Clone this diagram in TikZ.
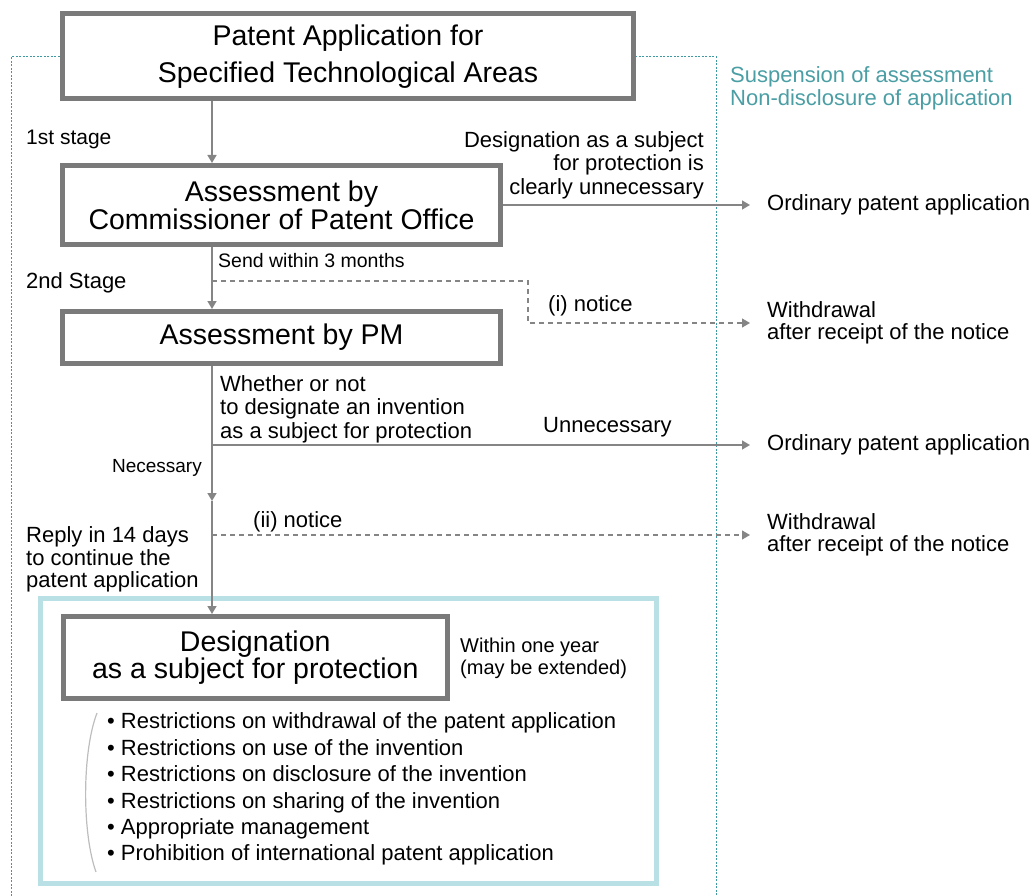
\documentclass[tikz,border=0pt]{standalone}
\usepackage{fontspec}
\setmainfont{Liberation Sans}
\usetikzlibrary{arrows.meta}
\definecolor{boxgray}{HTML}{7A7A7A}
\definecolor{linegray}{HTML}{858585}
\definecolor{noteteal}{HTML}{4A9EA4}
\definecolor{dotteal}{HTML}{3E99A0}
\definecolor{frameblue}{HTML}{B8E0E5}
\definecolor{bracegray}{HTML}{BDBDBD}
\tikzset{
  box/.style={draw=boxgray, line width=5pt, fill=white, align=center, inner sep=0pt,
    font=\fontsize{28.5}{28}\selectfont},
  flow/.style={draw=linegray, line width=1.5pt, -{Triangle[length=8pt,width=9pt]}},
  notice/.style={flow, line width=1.2pt, dash pattern=on 5pt off 4pt},
  txt/.style={inner sep=0pt, align=left, font=\fontsize{22}{23.5}\selectfont},
  small/.style={inner sep=0pt, align=left, font=\fontsize{19.5}{22}\selectfont},
  outcome/.style={txt, anchor=west, inner xsep=17pt, font=\fontsize{22}{22}\selectfont},
  secret/.style={draw=dotteal, line width=1pt, dash pattern=on 2pt off 1.5pt},
  protect/.style={draw=frameblue, line width=5pt},
  brace/.style={draw=bracegray, line width=1.2pt}
}

\begin{document}
\begin{tikzpicture}[x=1pt,y=-1pt]
\useasboundingbox (0,0) rectangle (1036,896);
\draw[secret] (11,896) -- (11,57) -- (716,57) -- (716,896);
\draw[protect] (40.5,598.5) rectangle (656.5,883.5);

\node[box,minimum width=571pt,minimum height=84.5pt,font=\fontsize{28.5}{37}\selectfont] (app) at (348,56.25) {Patent Application for\\Specified Technological Areas};
\node[box,minimum width=438pt,minimum height=79pt] (cpo) at (281.5,205) {Assessment by\\Commissioner of Patent Office};
\node[box,minimum width=438pt,minimum height=52pt] (pm) at (281.5,337.5) {Assessment by PM};
\node[box,minimum width=384.5pt,minimum height=82pt,font=\fontsize{28.5}{27}\selectfont] (desig) at (255.25,657.5) {Designation\\as a subject for protection};

\coordinate (spine) at (212,0);
\coordinate (ibend) at (528,281);
\coordinate (split) at (212,445);
\coordinate (nec) at (212,501);

\node[txt,anchor=west,text=noteteal] (suspend) at (730,88.5) {Suspension of assessment\\Non-disclosure of application};
\node[txt,anchor=west,font=\fontsize{21}{23}\selectfont] (stage1) at (26,139.7) {1st stage};
\node[txt,anchor=east,align=right] (clearly) at (704,165) {Designation as a subject\\for protection is\\clearly unnecessary};
\node[outcome] (ordA) at (750,205) {Ordinary patent application};
\node[small,anchor=west] (send) at (218,261) {Send within 3 months};
\node[txt,anchor=west] (stage2) at (26,282.4) {2nd Stage};
\node[txt,anchor=west] (noticeA) at (548,305.4) {(i) notice};
\node[outcome] (wdA) at (750,323) {Withdrawal\\after receipt of the notice};
\node[txt,anchor=west] (whether) at (220,409) {Whether or not\\to designate an invention\\as a subject for protection};
\node[txt,anchor=west] (unnec) at (543,427.3) {Unnecessary};
\node[outcome] (ordB) at (750,445) {Ordinary patent application};
\node[small,anchor=east,font=\fontsize{19}{22}\selectfont] (necess) at (202,468) {Necessary};
\node[txt,anchor=west] (noticeB) at (253,521.4) {(ii) notice};
\node[outcome] (wdB) at (750,535) {Withdrawal\\after receipt of the notice};
\node[txt,anchor=west,font=\fontsize{22}{22.5}\selectfont] (reply) at (26,559.8) {Reply in 14 days\\to continue the\\patent application};
\node[small,anchor=west,font=\fontsize{20}{22}\selectfont] (oneyear) at (460,658.8) {Within one year\\(may be extended)};
\node[txt,anchor=west,font=\fontsize{22}{26.4}\selectfont] (duties) at (107,789.3) {\textbullet\ Restrictions on withdrawal of the patent application\\\textbullet\ Restrictions on use of the invention\\\textbullet\ Restrictions on disclosure of the invention\\\textbullet\ Restrictions on sharing of the invention\\\textbullet\ Appropriate management\\\textbullet\ Prohibition of international patent application};
\draw[brace] (97,713) .. controls (82,752) and (82,833) .. (96,872);

\draw[flow] (app.south -| spine) -- (cpo.north -| spine);
\draw[flow] (cpo.south -| spine) -- (pm.north -| spine);
\draw[flow] (pm.south -| spine) -- (nec);
\draw[flow] (nec) -- (desig.north -| spine);
\draw[flow] (cpo.east) -- (ordA.west);
\draw[notice] (spine |- ibend) -- (ibend) |- (wdA.west);
\draw[flow] (split) -- (split -| ordB.west);
\draw[notice] (spine |- wdB.west) -- (wdB.west);
\end{tikzpicture}
\end{document}
